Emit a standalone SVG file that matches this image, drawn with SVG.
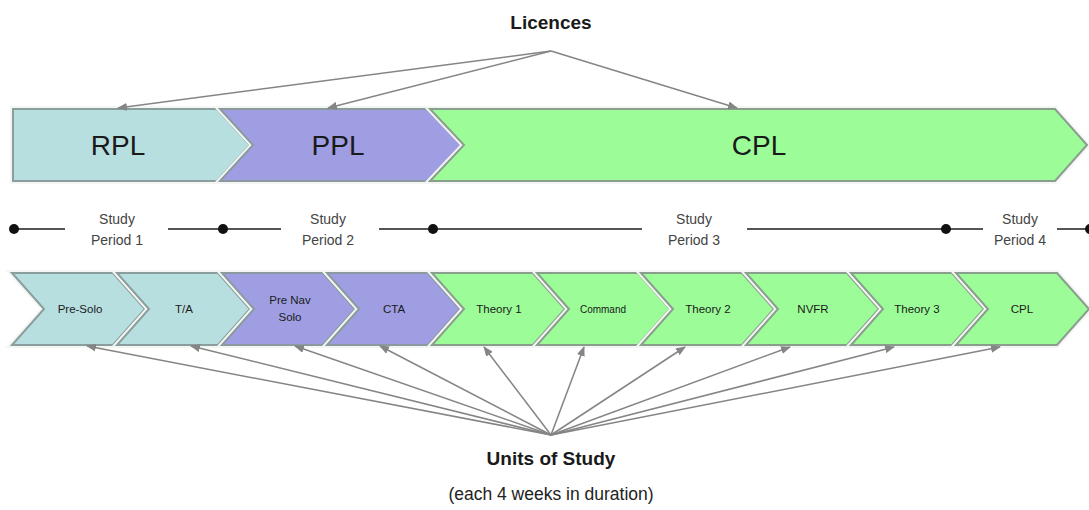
<svg xmlns="http://www.w3.org/2000/svg" width="1089" height="510" viewBox="0 0 1089 510">
<style>
.bg{fill:#ffffff}
.halo{fill:none;stroke:#f4f6f4;stroke-width:6;stroke-linejoin:miter}
.blue{fill:#b8dfe0;stroke:#8a9e9e;stroke-width:2}
.purple{fill:#9f9ee2;stroke:#8a9a9e;stroke-width:2}
.green{fill:#9cfc98;stroke:#8a9e8e;stroke-width:2}
.big{font-family:"Liberation Sans",Arial,sans-serif;font-size:28px;fill:#1a1a1a;text-anchor:middle}
.small{font-family:"Liberation Sans",Arial,sans-serif;font-size:11.5px;fill:#1a1a1a;text-anchor:middle}
.sp{font-family:"Liberation Sans",Arial,sans-serif;font-size:14px;fill:#444;text-anchor:middle}
.title{font-family:"Liberation Sans",Arial,sans-serif;font-size:19px;font-weight:bold;fill:#1a1a1a;text-anchor:middle}
.sub{font-family:"Liberation Sans",Arial,sans-serif;font-size:17.5px;fill:#222;text-anchor:middle}
.tl{stroke:#555;stroke-width:2}
.dot{fill:#111}
.arr{stroke:#858585;stroke-width:1.5;fill:none;marker-end:url(#ah)}
</style>
<defs>
<marker id="ah" markerWidth="10" markerHeight="8" refX="9" refY="4" orient="auto" markerUnits="userSpaceOnUse">
<path d="M0,0 L10,4 L0,8 Z" fill="#858585"/>
</marker>
</defs>
<rect class="bg" x="0" y="0" width="1089" height="510"/>

<g id="licences-title"><text class="title" x="551" y="29">Licences</text></g>

<g id="rpl"><polygon class="halo" points="13,109 217,109 250,145 217,181 13,181"/><polygon class="blue" points="13,109 217,109 250,145 217,181 13,181"/><text class="big" x="118" y="155">RPL</text></g>
<g id="ppl"><polygon class="halo" points="220,109 427,109 463,145 427,181 220,181 253,145"/><polygon class="purple" points="220,109 427,109 463,145 427,181 220,181 253,145"/><text class="big" x="338" y="155">PPL</text></g>
<g id="cpl-licence"><polygon class="halo" points="430,109 1055,109 1087,145 1055,181 430,181 464,145"/><polygon class="green" points="430,109 1055,109 1087,145 1055,181 430,181 464,145"/><text class="big" x="759" y="155">CPL</text></g>

<g id="study-periods">
<line class="tl" x1="13" y1="229" x2="65" y2="229"/>
<line class="tl" x1="168" y1="229" x2="281" y2="229"/>
<line class="tl" x1="379" y1="229" x2="642" y2="229"/>
<line class="tl" x1="747" y1="229" x2="983" y2="229"/>
<line class="tl" x1="1057" y1="229" x2="1089" y2="229"/>
<circle class="dot" cx="14" cy="229" r="5"/>
<circle class="dot" cx="223" cy="229" r="5"/>
<circle class="dot" cx="433" cy="229" r="5"/>
<circle class="dot" cx="946" cy="229" r="5"/>
<circle class="dot" cx="1090" cy="229" r="5"/>
<text class="sp" x="117" y="224">Study</text><text class="sp" x="117" y="245">Period 1</text>
<text class="sp" x="328" y="224">Study</text><text class="sp" x="328" y="245">Period 2</text>
<text class="sp" x="694" y="224">Study</text><text class="sp" x="694" y="245">Period 3</text>
<text class="sp" x="1020" y="224">Study</text><text class="sp" x="1020" y="245">Period 4</text>
</g>

<g id="u-presolo"><polygon class="halo" points="12,273 113,273 145,309 113,345 12,345 44,309"/><polygon class="blue" points="12,273 113,273 145,309 113,345 12,345 44,309"/><text class="small" x="80" y="313">Pre-Solo</text></g>
<g id="u-ta"><polygon class="halo" points="117,273 218,273 250,309 218,345 117,345 149,309"/><polygon class="blue" points="117,273 218,273 250,309 218,345 117,345 149,309"/><text class="small" x="184" y="313">T/A</text></g>
<g id="u-prenav"><polygon class="halo" points="222,273 323,273 355,309 323,345 222,345 254,309"/><polygon class="purple" points="222,273 323,273 355,309 323,345 222,345 254,309"/><text class="small" x="290" y="304">Pre Nav</text><text class="small" x="290" y="321">Solo</text></g>
<g id="u-cta"><polygon class="halo" points="327,273 428,273 460,309 428,345 327,345 359,309"/><polygon class="purple" points="327,273 428,273 460,309 428,345 327,345 359,309"/><text class="small" x="394" y="313">CTA</text></g>
<g id="u-theory1"><polygon class="halo" points="432,273 533,273 565,309 533,345 432,345 464,309"/><polygon class="green" points="432,273 533,273 565,309 533,345 432,345 464,309"/><text class="small" x="499" y="313">Theory 1</text></g>
<g id="u-command"><polygon class="halo" points="537,273 638,273 670,309 638,345 537,345 569,309"/><polygon class="green" points="537,273 638,273 670,309 638,345 537,345 569,309"/><text class="small" x="603" y="313" style="font-size:10px">Command</text></g>
<g id="u-theory2"><polygon class="halo" points="641,273 742,273 774,309 742,345 641,345 673,309"/><polygon class="green" points="641,273 742,273 774,309 742,345 641,345 673,309"/><text class="small" x="708" y="313">Theory 2</text></g>
<g id="u-nvfr"><polygon class="halo" points="746,273 847,273 879,309 847,345 746,345 778,309"/><polygon class="green" points="746,273 847,273 879,309 847,345 746,345 778,309"/><text class="small" x="813" y="313">NVFR</text></g>
<g id="u-theory3"><polygon class="halo" points="851,273 952,273 984,309 952,345 851,345 883,309"/><polygon class="green" points="851,273 952,273 984,309 952,345 851,345 883,309"/><text class="small" x="917" y="313">Theory 3</text></g>
<g id="u-cpl"><polygon class="halo" points="956,273 1057,273 1089,309 1057,345 956,345 988,309"/><polygon class="green" points="956,273 1057,273 1089,309 1057,345 956,345 988,309"/><text class="small" x="1022" y="313">CPL</text></g>

<g id="units-title"><text class="title" x="551" y="465">Units of Study</text><text class="sub" x="551" y="500">(each 4 weeks in duration)</text></g>

<g id="connectors">
<line class="arr" x1="551" y1="51" x2="118" y2="108"/>
<line class="arr" x1="551" y1="51" x2="328" y2="108"/>
<line class="arr" x1="551" y1="51" x2="737" y2="108"/>
<line class="arr" x1="551" y1="435" x2="87" y2="346"/>
<line class="arr" x1="551" y1="435" x2="191" y2="346"/>
<line class="arr" x1="551" y1="435" x2="295" y2="346"/>
<line class="arr" x1="551" y1="435" x2="380" y2="346"/>
<line class="arr" x1="551" y1="435" x2="484" y2="347"/>
<line class="arr" x1="551" y1="435" x2="584" y2="347"/>
<line class="arr" x1="551" y1="435" x2="685" y2="347"/>
<line class="arr" x1="551" y1="435" x2="790" y2="347"/>
<line class="arr" x1="551" y1="435" x2="894" y2="347"/>
<line class="arr" x1="551" y1="435" x2="1000" y2="347"/>
</g>
</svg>
